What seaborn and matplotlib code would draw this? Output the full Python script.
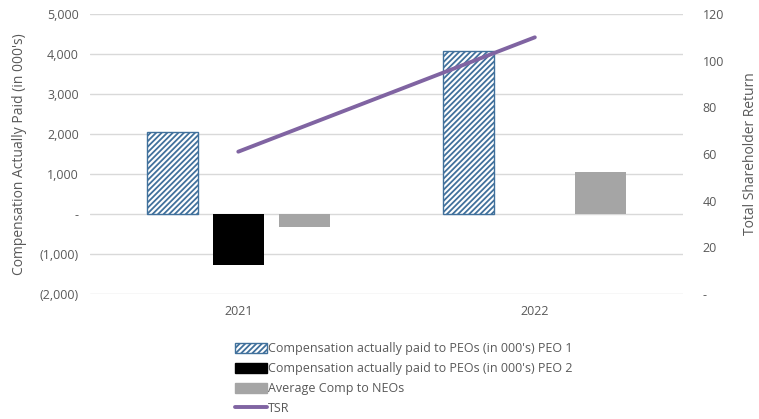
import numpy as np
import pandas as pd
import matplotlib
matplotlib.use("Agg")
import matplotlib.pyplot as plt
import seaborn as sns
from matplotlib.patches import Patch
from matplotlib.lines import Line2D
from matplotlib.ticker import FuncFormatter, MultipleLocator

years = ["2021", "2022"]
peo1 = [2050, 4075]
peo2 = [-1275, np.nan]
neo_avg = [-325, 1050]
tsr = [61, 110]
series_names = [
    "Compensation actually paid to PEOs (in 000's) PEO 1",
    "Compensation actually paid to PEOs (in 000's) PEO 2",
    "Average Comp to NEOs",
]

sns.set_theme(style="white")
plt.rcParams['font.family'] = ['Open Sans', 'DejaVu Sans']
plt.rcParams['hatch.linewidth'] = 1.3
TXT = "#595959"

df = pd.DataFrame({
    "year": years * 3,
    "value": peo1 + peo2 + neo_avg,
    "series": [series_names[0]] * 2 + [series_names[1]] * 2 + [series_names[2]] * 2,
})

fig = plt.figure(figsize=(7.59, 4.19), dpi=100)
ax = fig.add_axes([0.1186, 0.2983, 0.7814, 0.6683])

palette = {series_names[0]: "white", series_names[1]: "black", series_names[2]: "#A5A5A5"}
sns.barplot(data=df, x="year", y="value", hue="series", order=years,
            hue_order=series_names, palette=palette, width=0.667, gap=0.225,
            saturation=1, legend=False, ax=ax, zorder=3)

n = len(years)
for i, patch in enumerate(ax.patches):
    if i < n:
        patch.set_facecolor("white")
        patch.set_edgecolor("#41719C")
        patch.set_hatch("//////")
        patch.set_linewidth(1.0)
    else:
        patch.set_linewidth(0)

ax.set_xlim(-0.5, 1.5)
ax.set_ylim(-2000, 5000)
ax.yaxis.set_major_locator(MultipleLocator(1000))

def fmt_left(v, pos):
    if abs(v) < 1e-9:
        return "-"
    if v < 0:
        return "({:,.0f})".format(-v)
    return "{:,.0f}".format(v)

ax.yaxis.set_major_formatter(FuncFormatter(fmt_left))
ax.grid(axis="y", color="#D9D9D9", linewidth=1, zorder=0)
ax.set_axisbelow(True)
for s in ax.spines.values():
    s.set_visible(False)
ax.tick_params(axis="both", length=0, labelsize=9, colors=TXT, pad=8)
ax.set_xlabel("")
ax.set_ylabel("Compensation Actually Paid (in 000's)", fontsize=10, color=TXT, labelpad=9)

ax2 = ax.twinx()
sns.lineplot(x=[0, 1], y=tsr, ax=ax2, color="#8064A2", linewidth=2.8, zorder=4)
ax2.set_ylim(0, 120)
ax2.yaxis.set_major_locator(MultipleLocator(20))
ax2.yaxis.set_major_formatter(FuncFormatter(lambda v, p: "-" if abs(v) < 1e-9 else "{:.0f}".format(v)))
for s in ax2.spines.values():
    s.set_visible(False)
ax2.tick_params(axis="y", length=0, labelsize=9, colors=TXT, pad=14)
ax2.set_ylabel("Total Shareholder Return", fontsize=10, color=TXT, labelpad=14)
ax2.grid(False)
ax.set_xticks([0, 1])
ax.set_xticklabels(years)

handles = [
    Patch(facecolor="white", edgecolor="#41719C", hatch="//////", label=series_names[0]),
    Patch(facecolor="black", edgecolor="black", label=series_names[1]),
    Patch(facecolor="#A5A5A5", edgecolor="#A5A5A5", label=series_names[2]),
    Line2D([0], [0], color="#8064A2", linewidth=2.8, label="TSR"),
]
leg = fig.legend(handles=handles, loc="upper left", bbox_to_anchor=(0.309, 0.183),
                 frameon=False, fontsize=9, handlelength=2.6, handleheight=0.8,
                 handletextpad=0.1, labelspacing=0.55, borderaxespad=0, borderpad=0)
for t in leg.get_texts():
    t.set_color(TXT)

fig.savefig("out.png", dpi=100)
